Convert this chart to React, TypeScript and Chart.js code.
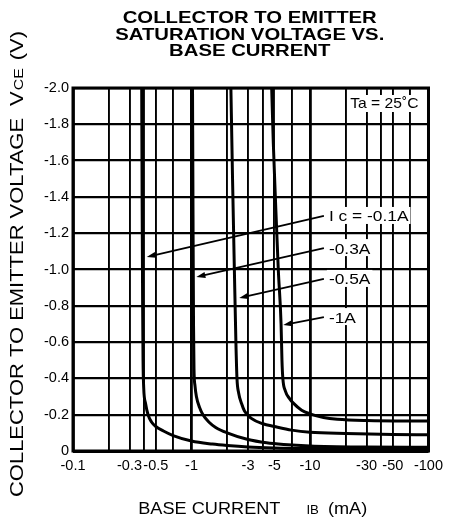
import { useEffect, useRef } from 'react';
import { Chart, registerables } from 'chart.js';

Chart.register(...registerables);

// ---- axis ticks ----
const baseCurrentGrid = [-0.1, -0.2, -0.3, -0.4, -0.5, -0.7, -1, -2, -3, -4, -5, -7, -10, -20, -30, -40, -50, -70, -100];
const baseCurrentLabels = [-0.1, -0.3, -0.5, -1, -3, -5, -10, -30, -50, -100];
const voltageTicks = [0, -0.2, -0.4, -0.6, -0.8, -1.0, -1.2, -1.4, -1.6, -1.8, -2.0];

// ---- series (IB in mA, VCE in V) ----
const seriesNames = ['I c = -0.1A', '-0.3A', '-0.5A', '-1A'];

const ic01Ib = [-0.38, -0.383, -0.387, -0.39, -0.395, -0.41, -0.43, -0.46, -0.5, -0.58, -0.7, -1, -1.5, -2, -3, -5, -10, -30, -100];
const ic01Vce = [-2.0, -1.4, -0.8, -0.5, -0.35, -0.26, -0.2, -0.16, -0.135, -0.11, -0.085, -0.055, -0.038, -0.03, -0.022, -0.017, -0.014, -0.012, -0.01];

const ic03Ib = [-1.02, -1.03, -1.04, -1.05, -1.07, -1.1, -1.17, -1.25, -1.4, -1.6, -2, -3, -4.3, -6, -10, -30, -100];
const ic03Vce = [-2.0, -1.3, -0.7, -0.45, -0.36, -0.3, -0.24, -0.2, -0.16, -0.13, -0.1, -0.063, -0.045, -0.036, -0.028, -0.022, -0.02];

const ic05Ib = [-2.15, -2.22, -2.3, -2.37, -2.42, -2.5, -2.65, -2.8, -3.2, -4, -5, -7, -10, -20, -50, -100];
const ic05Vce = [-2.0, -1.5, -1.0, -0.6, -0.4, -0.32, -0.26, -0.22, -0.18, -0.15, -0.135, -0.115, -0.103, -0.096, -0.091, -0.089];

const ic1Ib = [-4.75, -4.9, -5.1, -5.4, -5.7, -5.8, -5.9, -6.2, -6.7, -7.2, -8.5, -10, -13, -17, -30, -100];
const ic1Vce = [-2.0, -1.7, -1.4, -1.0, -0.7, -0.5, -0.4, -0.33, -0.29, -0.265, -0.225, -0.205, -0.185, -0.175, -0.168, -0.165];

// ---- label arrows (from label to curve), data coordinates ----
const arrowFromIb = [-13.1, -13.1, -13.1, -13.1];
const arrowFromVce = [-1.295, -1.118, -0.948, -0.738];
const arrowToIb = [-0.419, -1.1, -2.53, -5.95];
const arrowToVce = [-1.069, -0.959, -0.843, -0.694];

const titleLines = ['COLLECTOR TO EMITTER', 'SATURATION VOLTAGE VS.', 'BASE CURRENT'];
const yTitleMain = 'COLLECTOR TO EMITTER VOLTAGE';
const xTitleMain = 'BASE CURRENT';
const tempLabel = 'Ta = 25\u02DAC';

const FONT = '"Liberation Sans", Arial, Helvetica, sans-serif';

function toPoints(ib: number[], vce: number[]) {
  return ib.map((b, i) => ({ x: -b, y: vce[i] }));
}

type Run = { text: string; size: number; bold?: boolean; gapBefore?: number };

function runsWidth(ctx: CanvasRenderingContext2D, runs: Run[], sx: number) {
  let w = 0;
  for (const r of runs) {
    ctx.font = `${r.bold ? 'bold ' : ''}${r.size}px ${FONT}`;
    w += (r.gapBefore || 0) + ctx.measureText(r.text).width * sx;
  }
  return w;
}

function drawRuns(ctx: CanvasRenderingContext2D, runs: Run[], x: number, baseline: number, sx: number) {
  let cx = x;
  for (const r of runs) {
    ctx.font = `${r.bold ? 'bold ' : ''}${r.size}px ${FONT}`;
    cx += r.gapBefore || 0;
    ctx.save();
    ctx.translate(cx, baseline);
    ctx.scale(sx, 1);
    ctx.textAlign = 'left';
    ctx.textBaseline = 'alphabetic';
    ctx.fillText(r.text, 0, 0);
    ctx.restore();
    cx += ctx.measureText(r.text).width * sx;
  }
}

const decorPlugin = {
  id: 'decor',
  afterDatasetsDraw(chart: any) {
    const { ctx, chartArea, scales } = chart;
    const xs = scales.x;
    const ys = scales.y;
    ctx.save();
    ctx.fillStyle = '#000';
    ctx.strokeStyle = '#000';

    // frame
    ctx.lineWidth = 3;
    ctx.strokeRect(chartArea.left, chartArea.top, chartArea.right - chartArea.left, chartArea.bottom - chartArea.top);
    ctx.fillRect(chartArea.left, chartArea.bottom - 1, chartArea.right - chartArea.left, 3);

    // arrows
    for (let i = 0; i < arrowFromIb.length; i++) {
      const x0 = xs.getPixelForValue(-arrowFromIb[i]);
      const y0 = ys.getPixelForValue(arrowFromVce[i]);
      const x1 = xs.getPixelForValue(-arrowToIb[i]);
      const y1 = ys.getPixelForValue(arrowToVce[i]);
      const ang = Math.atan2(y1 - y0, x1 - x0);
      ctx.lineWidth = 1.8;
      ctx.beginPath();
      ctx.moveTo(x0, y0);
      ctx.lineTo(x1 - Math.cos(ang) * 6, y1 - Math.sin(ang) * 6);
      ctx.stroke();
      ctx.beginPath();
      ctx.moveTo(x1, y1);
      ctx.lineTo(x1 - Math.cos(ang) * 9 + Math.sin(ang) * 3, y1 - Math.sin(ang) * 9 - Math.cos(ang) * 3);
      ctx.lineTo(x1 - Math.cos(ang) * 9 - Math.sin(ang) * 3, y1 - Math.sin(ang) * 9 + Math.cos(ang) * 3);
      ctx.closePath();
      ctx.fill();
      const runs: Run[] = [{ text: seriesNames[i], size: 15.5 }];
      const w = runsWidth(ctx, runs, 1.12);
      ctx.fillStyle = '#fff';
      ctx.fillRect(x0 + 3, y0 - 9, w + 4, 17);
      ctx.fillStyle = '#000';
      drawRuns(ctx, runs, x0 + 5, y0 + 5.5, 1.12);
    }

    // temperature
    {
      const runs: Run[] = [{ text: tempLabel, size: 14.5 }];
      const w = runsWidth(ctx, runs, 1.08);
      const x = chartArea.right - 10 - w;
      const y = chartArea.top + 15;
      ctx.fillStyle = '#fff';
      ctx.fillRect(x - 3, y - 8, w + 6, 17);
      ctx.fillStyle = '#000';
      drawRuns(ctx, runs, x, y + 5, 1.08);
    }
    ctx.restore();
  },
  afterDraw(chart: any) {
    const { ctx, chartArea } = chart;
    ctx.save();
    ctx.fillStyle = '#000';
    const cx = (chartArea.left + chartArea.right) / 2 - 1;

    // title
    titleLines.forEach((line, i) => {
      const runs: Run[] = [{ text: line, size: 16.5, bold: true }];
      const w = runsWidth(ctx, runs, 1.23);
      drawRuns(ctx, runs, cx - w / 2, 23 + i * 16.5, 1.23);
    });

    // x axis title
    {
      const sx = 1.1;
      const runs: Run[] = [
        { text: xTitleMain, size: 16.5 },
        { text: 'I', size: 12, gapBefore: 26 },
        { text: 'B', size: 12 },
        { text: '(mA)', size: 16.5, gapBefore: 9 },
      ];
      const w = runsWidth(ctx, runs, sx);
      drawRuns(ctx, runs, cx - w / 2 + 3, 514, sx);
    }

    // y axis title (rotated)
    {
      const runs: Run[] = [
        { text: yTitleMain, size: 18 },
        { text: 'V', size: 18, gapBefore: 12 },
        { text: 'CE', size: 13, gapBefore: 1 },
        { text: '(V)', size: 18, gapBefore: 8 },
      ];
      ctx.save();
      ctx.translate(23, 497);
      ctx.rotate(-Math.PI / 2);
      drawRuns(ctx, runs, 0, 0, 1.22);
      ctx.restore();
    }
    ctx.restore();
  },
};

export default function App() {
  const canvasRef = useRef<HTMLCanvasElement | null>(null);

  useEffect(() => {
    document.body.style.margin = '0';
    const canvas = canvasRef.current;
    if (!canvas) return;
    const series = [
      toPoints(ic01Ib, ic01Vce),
      toPoints(ic03Ib, ic03Vce),
      toPoints(ic05Ib, ic05Vce),
      toPoints(ic1Ib, ic1Vce),
    ];
    const chart = new Chart(canvas, {
      type: 'line',
      data: {
        datasets: series.map((pts, i) => ({
          label: seriesNames[i],
          data: pts,
          borderColor: '#000',
          borderWidth: 3,
          pointRadius: 0,
          fill: false,
          cubicInterpolationMode: 'monotone' as const,
        })),
      },
      options: {
        responsive: false,
        animation: false,
        parsing: false as any,
        layout: { padding: { left: 0, top: 88, right: 19, bottom: 0 } },
        plugins: {
          legend: { display: false },
          title: { display: false },
          tooltip: { enabled: false },
        },
        scales: {
          x: {
            type: 'logarithmic',
            min: 0.1,
            max: 100,
            afterBuildTicks: (axis: any) => {
              axis.ticks = baseCurrentGrid.map((v) => ({ value: -v }));
            },
            afterFit: (axis: any) => {
              axis.height = 70;
            },
            border: { display: false },
            grid: {
              color: '#000',
              lineWidth: (c: any) => {
                const v = c.tick ? c.tick.value : 0;
                const l = Math.log10(v);
                return Math.abs(l - Math.round(l)) < 1e-6 ? 2.8 : 1.9;
              },
              drawTicks: false,
            },
            ticks: {
              autoSkip: false,
              maxRotation: 0,
              minRotation: 0,
              padding: 6,
              color: '#000',
              font: { family: FONT, size: 14.5 },
              callback: (value: any) => {
                const v = Number(value);
                const hit = baseCurrentLabels.find((l) => Math.abs(-l - v) < 1e-9);
                return hit !== undefined ? String(hit) : '';
              },
            },
          },
          y: {
            type: 'linear',
            min: -2,
            max: 0,
            reverse: true,
            afterBuildTicks: (axis: any) => {
              axis.ticks = voltageTicks.map((v) => ({ value: v }));
            },
            afterFit: (axis: any) => {
              axis.width = 73;
            },
            border: { display: false },
            grid: { color: '#000', lineWidth: 2.2, drawTicks: false },
            ticks: {
              padding: 4,
              color: '#000',
              font: { family: FONT, size: 14.5 },
              callback: (value: any) => {
                const v = Number(value);
                return Math.abs(v) < 1e-9 ? '0' : v.toFixed(1);
              },
            },
          },
        },
      },
      plugins: [decorPlugin],
    });
    return () => chart.destroy();
  }, []);

  return (
    <div style={{ width: 449, height: 521, background: '#fff' }}>
      <canvas ref={canvasRef} width={449} height={521} style={{ display: 'block' }} />
    </div>
  );
}
